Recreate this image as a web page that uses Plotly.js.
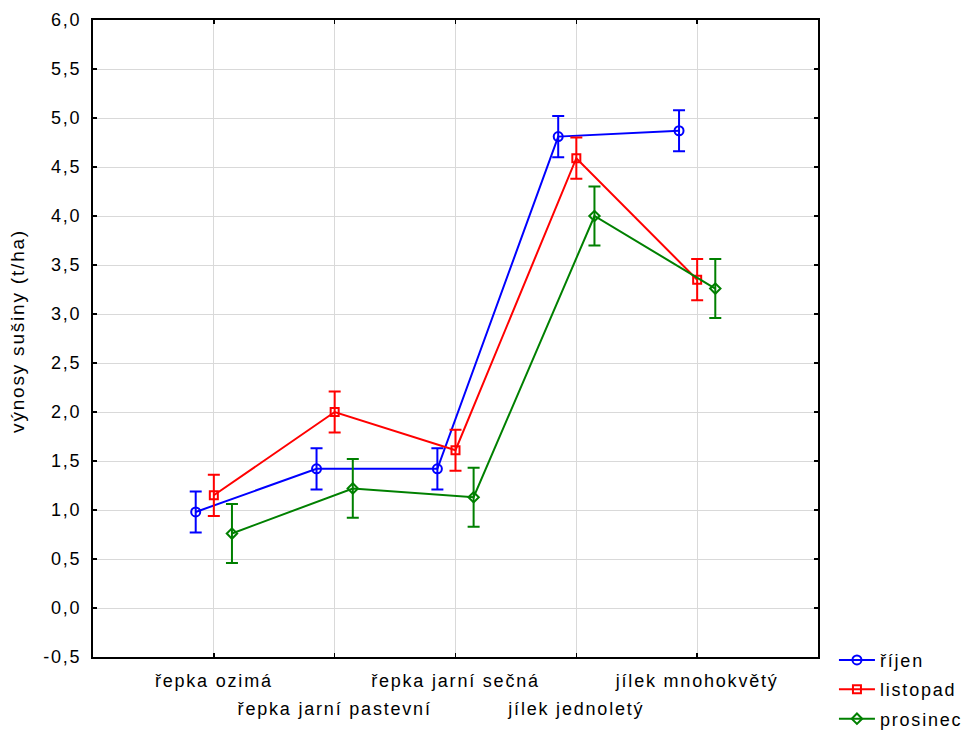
<!DOCTYPE html>
<html>
<head>
<meta charset="utf-8">
<script src="https://cdn.plot.ly/plotly-3.0.1.min.js"></script>
<style>html,body{margin:0;padding:0;background:#fff;}#chart{width:974px;height:730px;} svg text{letter-spacing:1.8px;}</style>
</head>
<body>
<div id="chart"></div>
<script>
const categories = ["řepka ozimá", "řepka jarní pastevní", "řepka jarní sečná", "jílek jednoletý", "jílek mnohokvětý"];
const seriesNames = ["říjen", "listopad", "prosinec"];
const rijen = [0.98, 1.42, 1.42, 4.81, 4.87];
const rijenErr = [0.21, 0.21, 0.21, 0.21, 0.21];
const listopad = [1.15, 2.00, 1.61, 4.59, 3.35];
const listopadErr = [0.21, 0.21, 0.21, 0.21, 0.21];
const prosinec = [0.76, 1.22, 1.13, 4.00, 3.26];
const prosinecErr = [0.30, 0.30, 0.30, 0.30, 0.30];
const yTickVals = [-0.5, 0, 0.5, 1, 1.5, 2, 2.5, 3, 3.5, 4, 4.5, 5, 5.5, 6];
const yTickText = ["-0,5", "0,0", "0,5", "1,0", "1,5", "2,0", "2,5", "3,0", "3,5", "4,0", "4,5", "5,0", "5,5", "6,0"];
const yTitle = "výnosy sušiny (t/ha)";

const offsets = [-0.15, 0, 0.15];
const colors = ["#0000ff", "#ff0000", "#008000"];
const symbols = ["circle-open", "square-open", "diamond-open"];
const values = [rijen, listopad, prosinec];
const errs = [rijenErr, listopadErr, prosinecErr];

const idx = categories.map((c, i) => i);
const traces = values.map((vals, s) => ({
  type: "scatter",
  mode: "lines+markers",
  name: seriesNames[s],
  legendgroup: "g" + s,
  x: idx.map(i => i + offsets[s]),
  y: vals,
  line: {color: colors[s], width: 2},
  marker: {symbol: symbols[s], size: s === 0 ? 9 : 8, color: colors[s], line: {color: colors[s], width: 2}},
  error_y: {type: "data", array: errs[s], visible: true, color: colors[s], thickness: 2, width: 6}
}));
// helper trace so the second (label-only) x axis is drawn
traces.push({type: "scatter", mode: "markers", x: [0], y: [null], xaxis: "x2", showlegend: false, hoverinfo: "skip"});

const oddIdx = idx.filter(i => i % 2 === 1);
const tickFont = {size: 18, family: "Liberation Sans, Arial, sans-serif", color: "#000"};

const layout = {
  width: 974,
  height: 730,
  margin: {l: 93, r: 156, t: 20, b: 73, autoexpand: false},
  paper_bgcolor: "#ffffff",
  plot_bgcolor: "#ffffff",
  font: {family: "Liberation Sans, Arial, sans-serif", size: 18, color: "#000"},
  showlegend: true,
  legend: {x: 1.022, y: 0.024, xanchor: "left", yanchor: "top", font: {size: 18}, bgcolor: "rgba(0,0,0,0)", tracegroupgap: 3, itemwidth: 36},
  xaxis: {
    range: [-1, 5],
    tickmode: "array",
    tickvals: idx,
    ticktext: idx.map(i => i % 2 === 0 ? categories[i] : ""),
    tickangle: 0,
    ticks: "inside",
    ticklen: 4,
    tickwidth: 1.5,
    tickcolor: "#000",
    showline: true,
    linecolor: "#000",
    linewidth: 2,
    mirror: "ticks",
    showgrid: true,
    gridcolor: "#d9d9d9",
    gridwidth: 1,
    zeroline: false,
    tickfont: tickFont,
    ticklabelstandoff: 6,
    automargin: false
  },
  xaxis2: {
    overlaying: "x",
    anchor: "y",
    side: "bottom",
    range: [-1, 5],
    tickmode: "array",
    tickvals: oddIdx,
    ticktext: oddIdx.map(i => categories[i]),
    tickangle: 0,
    ticks: "",
    showline: false,
    showgrid: false,
    zeroline: false,
    tickfont: tickFont,
    ticklabelstandoff: 39,
    automargin: false
  },
  yaxis: {
    range: [-0.5, 6],
    tickmode: "array",
    tickvals: yTickVals,
    ticktext: yTickText,
    ticks: "inside",
    ticklen: 4,
    tickwidth: 1.5,
    tickcolor: "#000",
    showline: true,
    linecolor: "#000",
    linewidth: 2,
    mirror: "ticks",
    showgrid: true,
    gridcolor: "#d9d9d9",
    gridwidth: 1,
    zeroline: false,
    tickfont: tickFont,
    ticklabelstandoff: 6,
    automargin: false
  },
  annotations: [{
    text: yTitle,
    xref: "paper", yref: "paper",
    x: -0.1034, y: 0.512,
    xanchor: "center", yanchor: "middle",
    textangle: -90,
    showarrow: false,
    font: {size: 19, color: "#000"}
  }]
};

Plotly.newPlot("chart", traces, layout, {displayModeBar: false, staticPlot: true});
</script>
</body>
</html>
